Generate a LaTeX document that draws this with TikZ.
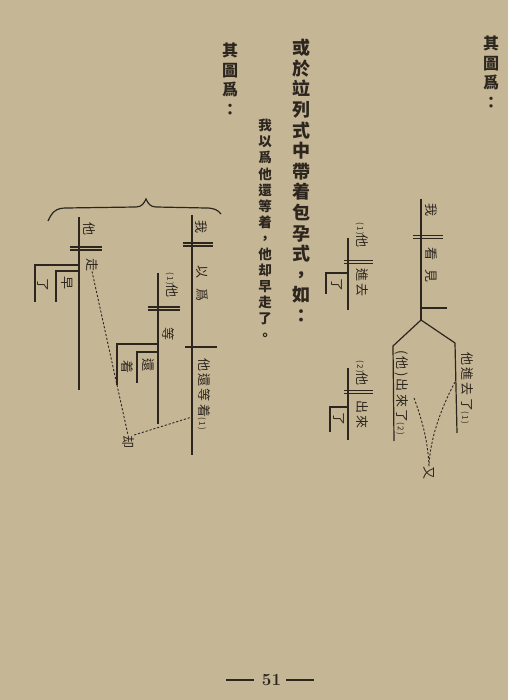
\documentclass[tikz,border=0pt]{standalone}
\usepackage{fontspec}
\newfontfamily\cjk{Noto Sans CJK TC}
\newfontfamily\cjkhand[LetterSpace=18]{Noto Sans CJK TC}
\usetikzlibrary{calc}
\definecolor{paper}{RGB}{197,182,150}
\definecolor{ink}{RGB}{45,38,30}
\tikzset{
  rule/.style     = {draw=ink, line width=1.2pt},
  dashlink/.style = {draw=ink, line width=0.9pt, dash pattern=on 2.2pt off 1.8pt},
  printcol/.style = {text=ink, font=\cjk\bfseries\fontsize{18}{20.6}\selectfont, align=center, inner sep=0pt, anchor=north},
  smallcol/.style = {printcol, font=\cjk\bfseries\fontsize{13.5}{16.1}\selectfont},
  headcol/.style  = {printcol, font=\cjk\bfseries\fontsize{16}{19.5}\selectfont},
  hand/.style     = {text=ink, font=\cjkhand\fontsize{13}{13}\selectfont, inner sep=0pt, rotate=-90, anchor=west},
}
\newcommand\tagno[1]{{\fontsize{8}{8}\selectfont(#1)}}

\begin{document}
\begin{tikzpicture}[x=1pt, y=-1pt]
  \fill[paper] (0,0) rectangle (508,700);
  \useasboundingbox (0,0) rectangle (508,700);

  % printed columns, right to left
  \node[headcol] (head1) at (491,36) {其\\圖\\爲\\：};
  \node[printcol] (lead) at (301,39) {或\\於\\竝\\列\\式\\中\\帶\\着\\包\\孕\\式\\，\\如\\：};
  \node[smallcol] (sent) at (265,119) {我\\以\\爲\\他\\還\\等\\着\\，\\他\\却\\早\\走\\了\\。};
  \node[headcol] (head2) at (230,43) {其\\圖\\爲\\：};

  % first diagram
  \draw[rule] (421,199) -- (421,320) coordinate (apex);
  \draw[rule] (413,235.5) -- (443,235.5);
  \draw[rule] (413,238.5) -- (443,238.5);
  \draw[rule] (421,308) -- (447,308);
  \draw[rule] (394,441) -- (393,346) -- (apex) -- (455,343) -- (457,433);
  \node[hand] (wo) at (431,203) {我};
  \node[hand] (kanjian) at (431,247) {看\hspace{9pt}見};
  \node[hand] (jinqu) at (467,352) {他進去了\tagno{1}};
  \node[hand] (chulai) at (402,350) {(他)出來了\tagno{2}};
  \node[hand] (you) at (429,466) {又};
  \coordinate (ldash) at (414,398);
  \coordinate (rdash) at (455,382);
  \draw[dashlink] (ldash) .. controls (424,425) and (428,445) .. (you.west);
  \draw[dashlink] (rdash) .. controls (440,410) and (430,440) .. (you.west);

  % clause (1)
  \draw[rule] (348,238) -- (348,310);
  \draw[rule] (344,260.5) -- (373,260.5);
  \draw[rule] (344,263.5) -- (373,263.5);
  \draw[rule] (348,273) -- (326,273) -- (326,294);
  \node[hand] (ta1) at (362,222) {\tagno{1}他};
  \node[hand] (jinqu1) at (362,268) {進去};
  \node[hand] (le1) at (337,278) {了};

  % clause (2)
  \draw[rule] (348,368) -- (348,440);
  \draw[rule] (344,390.5) -- (373,390.5);
  \draw[rule] (344,393.5) -- (373,393.5);
  \draw[rule] (348,407) -- (330,407) -- (330,432);
  \node[hand] (ta2) at (362,360) {\tagno{2}他};
  \node[hand] (chulai2) at (362,400) {出來};
  \node[hand] (le2) at (339,412) {了};

  % second diagram
  \draw[rule] (48,221) .. controls (52,212) and (56,208) .. (66,208) -- (136,207)
    .. controls (142,207) and (144,203) .. (146,199)
    .. controls (148,203) and (150,207) .. (156,207) -- (206,208)
    .. controls (214,208) and (218,210) .. (221,214);
  \draw[rule] (79,217) -- (79,390);
  \draw[rule] (70,247) -- (102,247);
  \draw[rule] (70,250) -- (102,250);
  \draw[rule] (79,265) -- (35,265) -- (35,302);
  \draw[rule] (79,271) -- (56,271) -- (56,302);
  \node[hand] (ta3) at (89,222) {他};
  \node[hand] (zou) at (92,258) {走};
  \node[hand] (le3) at (43,278) {了};
  \node[hand] (zao) at (67,276) {早};

  \draw[rule] (192,215) -- (192,455);
  \draw[rule] (183,243) -- (213,243);
  \draw[rule] (183,246) -- (213,246);
  \draw[rule] (185,347) -- (217,347);
  \node[hand] (wo2) at (201,220) {我};
  \node[hand] (yiwei) at (202,265) {以\hspace{10pt}爲};
  \node[hand] (haideng) at (204,358) {他還等着\tagno{1}};

  \draw[rule] (158,273) -- (158,424);
  \draw[rule] (148,307) -- (180,307);
  \draw[rule] (148,310) -- (180,310);
  \draw[rule] (158,344) -- (117,344) -- (117,385);
  \draw[rule] (158,352) -- (137,352) -- (137,383);
  \node[hand] (ta4) at (172,272) {\tagno{1}他};
  \node[hand] (deng) at (168,327) {等};
  \node[hand] (zhe) at (127,360) {着};
  \node[hand] (hai) at (148,358) {還};
  \node[hand] (que) at (128,435) {却};
  \coordinate (hook) at (192,417);
  \draw[dashlink] (zou.east) -- (que.west);
  \draw[dashlink] (que.north west) -- (hook);

  % page number
  \node[text=ink, font=\bfseries\fontsize{17}{17}\selectfont, inner sep=0pt] (pgno) at (271.5,680) {51};
  \draw[ink, line width=2pt] ($(pgno.west)+(-8,0)$) -- ++(-28,0);
  \draw[ink, line width=2pt] ($(pgno.east)+(5,0)$) -- ++(28,0);
\end{tikzpicture}
\end{document}
